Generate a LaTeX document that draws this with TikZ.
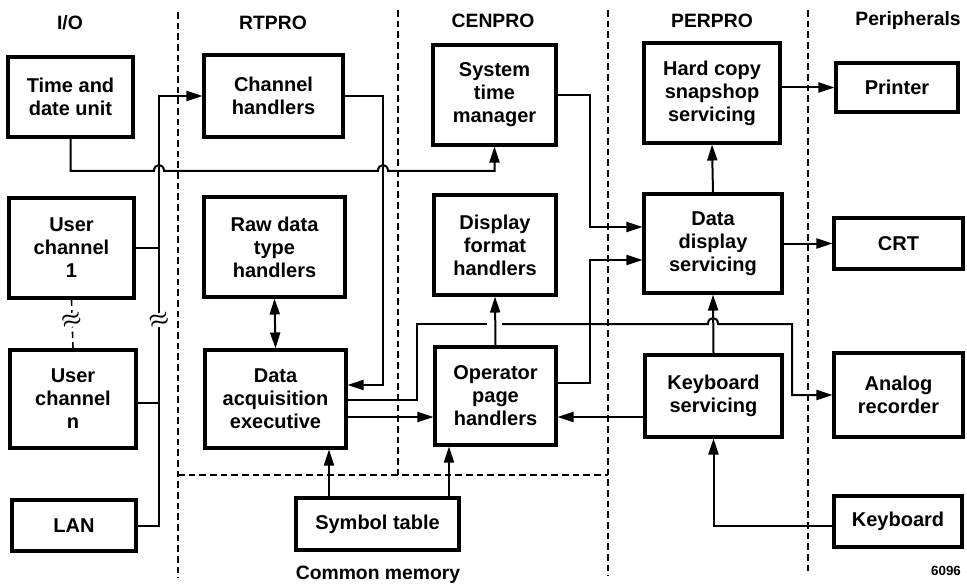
\documentclass[tikz,border=0pt]{standalone}
\usepackage{fontspec}
\setmainfont{Liberation Sans}
\usetikzlibrary{arrows.meta}
\tikzset{
 box/.style={draw, line width=2.3pt, inner sep=0pt, align=center, font=\bfseries\fontsize{15}{17.25}\selectfont},
 rect/.style args={#1/#2/#3/#4}{minimum width={(#3-#1)*0.75pt}, minimum height={(#4-#2)*0.75pt}, at={({(#1+#3)/2},{(#2+#4)/2})}},
 conn/.style={line width=1.5pt},
 arr/.style={conn, -{Triangle[length=12pt,width=7.5pt]}},
 dbl/.style={conn, {Triangle[length=12pt,width=7.5pt]}-{Triangle[length=12pt,width=7.5pt]}},
 divider/.style={line width=1.2pt, dash pattern=on 5pt off 3pt},
 head/.style={font=\bfseries\fontsize{14.5}{16}\selectfont},
 brk/.style={fill=white, inner sep=0.3pt, font=\boldmath\fontsize{19}{19}\selectfont, rotate=15},
}
\begin{document}
\begin{tikzpicture}[x=0.75pt,y=-0.75pt]
\fill[white] (0,0) rectangle (967,588);
\useasboundingbox (0,0) rectangle (967,588);

% dividers
\draw[divider] (178,12) -- (178,578);
\draw[divider] (398,10) -- (398,475);
\draw[divider] (608,10) -- (608,576);
\draw[divider] (808,10) -- (808,574);
\draw[divider] (178,475) -- (608,475);

% headers
\node[head] (hio) at (70,23) {I/O};
\node[head] (hrt) at (273,23) {RTPRO};
\node[head] (hcen) at (493,21) {CENPRO};
\node[head] (hper) at (712,21) {PERPRO};
\node[head] (hperi) at (908,21) {Peripherals};
\node[head] (hcm) at (378,575) {Common memory};
\node[font=\bfseries\fontsize{10}{12}\selectfont] (num) at (946,571) {6096};

% boxes
\node[box, rect=8/57/133/137] (tdu) {Time and\\date unit};
\node[box, rect=9/198/134/298] (uc1) {User\\channel\\1};
\node[box, rect=10/350/136/448] (ucn) {User\\channel\\n};
\node[box, rect=12/500/136/551] (lan) {LAN};
\node[box, rect=204/55/343/137] (ch) {Channel\\handlers};
\node[box, rect=204/197/345/297] (rdt) {Raw data\\type\\handlers};
\node[box, rect=205/350/346/448] (dae) {Data\\acquisition\\executive};
\node[box, rect=296/498/459/550] (st) {Symbol table};
\node[box, rect=433/45/556/145] (stm) {System\\time\\manager};
\node[box, rect=434/195/556/295] (dfh) {Display\\format\\handlers};
\node[box, rect=435/347/556/445] (oph) {Operator\\page\\handlers};
\node[box, rect=644/43/780/143] (hc) {Hard copy\\snapshop\\servicing};
\node[box, rect=644/194/782/293] (dds) {Data\\display\\servicing};
\node[box, rect=645/355/782/437] (ks) {Keyboard\\servicing};
\node[box, rect=836/63/958/112] (pr) {Printer};
\node[box, rect=834/218/963/269] (crt) {CRT};
\node[box, rect=834/353/963/437] (ar) {Analog\\recorder};
\node[box, rect=834/496/962/547] (kb) {Keyboard};

% I/O bus
\draw[conn] (lan.east) -| (159,320);
\draw[arr] (159,320) |- (ch.west);
\draw[conn] (uc1.east) -- (uc1.east -| 159,0);
\draw[conn] (ucn.east |- 0,403) -- (159,403);
\draw[divider] (uc1.south) -- (ucn.north);
\node[brk] (b1) at (159,320) {$\approx$};
\node[brk] (b2) at (uc1.south |- 0,320) {$\approx$};

% time and date -> system time manager
\draw[arr] (tdu.south) -- (tdu.south |- 0,171) -- (154,171) .. controls (154,163) and (164,163) .. (164,171)
  -- (378,171) .. controls (378,163) and (388,163) .. (388,171) -- (stm.south |- 0,171) -- (stm.south);

% channel handlers -> data acquisition executive
\draw[arr] (ch.east) -| (383,385) -- (dae.east |- 0,385);

% raw data <-> dae
\draw[dbl] (rdt.south) -- (dae.north);

% symbol table
\draw[arr] (st.north -| 329,0) -- (dae.south -| 329,0);
\draw[arr] (st.north -| 449,0) -- (oph.south -| 449,0);

% dae -> operator page handlers
\draw[arr] (dae.east |- 0,417) -- (oph.west |- 0,417);

% dae -> analog recorder
\draw[conn] (dae.east |- 0,400) -- (417,400) -- (417,324) -- (487,324);
\draw[arr] (502,324) -- (708,324) .. controls (708,316) and (718,316) .. (718,324) -- (792,324) |- (ar.west);

% operator -> display format
\draw[arr] (oph.north) -- (dfh.south);

% system time manager -> data display servicing
\draw[arr] (stm.east) -| (590,227) -- (dds.west |- 0,227);
% operator -> data display servicing
\draw[arr] (oph.east |- 0,383) -| (590,260) -- (dds.west |- 0,260);

% data display -> hard copy, printer, CRT
\draw[arr] (dds.north) -- (hc.south);
\draw[arr] (hc.east |- pr.west) -- (pr.west);
\draw[arr] (dds.east |- crt.west) -- (crt.west);

% keyboard servicing
\draw[arr] (ks.north) -- (dds.south);
\draw[arr] (ks.west |- 0,417) -- (oph.east |- 0,417);
\draw[arr] (kb.west |- 0,526) -| (ks.south);
\end{tikzpicture}
\end{document}
